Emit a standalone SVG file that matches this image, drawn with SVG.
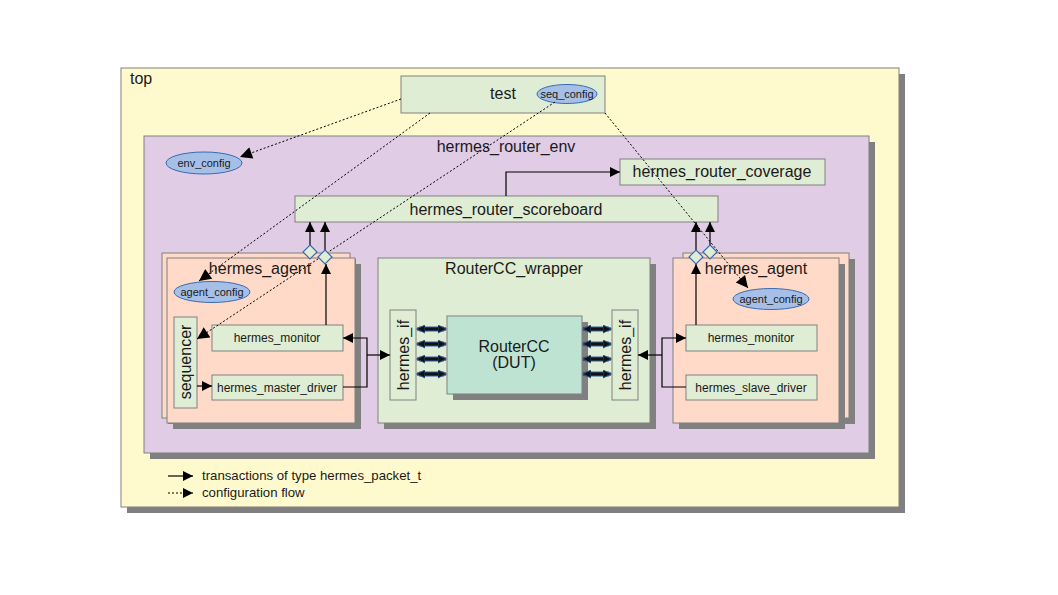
<svg xmlns="http://www.w3.org/2000/svg" width="1058" height="595" viewBox="0 0 1058 595">
<defs>
<marker id="ah" viewBox="0 0 10 10" refX="10" refY="5" markerWidth="11" markerHeight="10" markerUnits="userSpaceOnUse" orient="auto"><path d="M0,0 L10,5 L0,10 z" fill="#000"/></marker>
<marker id="ahc" viewBox="0 0 10 10" refX="10" refY="5" markerWidth="15" markerHeight="12" markerUnits="userSpaceOnUse" orient="auto"><path d="M0,0 L10,5 L0,10 z" fill="#000"/></marker>
<marker id="bi" viewBox="0 0 10 10" refX="9" refY="5" markerWidth="9" markerHeight="9" markerUnits="userSpaceOnUse" orient="auto-start-reverse"><path d="M0,0.5 L9.5,5 L0,9.5 z" fill="#111" stroke="#2f5f9f" stroke-width="1"/></marker>
</defs>
<style>
.sh{fill:#808080}
.top{fill:#fffacd;stroke:#808080;stroke-width:1}
.env{fill:#e0cce4;stroke:#808080;stroke-width:1}
.grn{fill:#dfedd4;stroke:#808080;stroke-width:1}
.ag{fill:#ffdac8;stroke:#808080;stroke-width:1}
.dut{fill:#bee3d3;stroke:#808080;stroke-width:1}
.ell{fill:#a6bfe6;stroke:#3a6bb0;stroke-width:1}
.dia{fill:#dfedd4;stroke:#3a6bb0;stroke-width:1.2}
text{font-family:"Liberation Sans",Arial,sans-serif;fill:#1a1a1a}
.t16{font-size:16px}
.t13{font-size:12px}
.t11{font-size:11px}
.t12{font-size:13.2px}
.mid{text-anchor:middle}
.ln{stroke:#000;stroke-width:1.2;fill:none}
.dot{stroke:#000;stroke-width:1;fill:none;stroke-dasharray:2,2}
.bb{stroke:#2f5f9f;stroke-width:5}
.bk{stroke:#111;stroke-width:3}
</style>
<rect width="1058" height="595" fill="#fff"/>
<g id="top">
<rect class="sh" x="127" y="74" width="778" height="439"/>
<rect class="top" x="121" y="68" width="778" height="439"/>
<text class="t16" x="130" y="84">top</text>
</g>
<g id="hermes_router_env">
<rect class="sh" x="150" y="142" width="725" height="317"/>
<rect class="env" x="144" y="136" width="725" height="317"/>
<text class="t16 mid" x="506" y="152">hermes_router_env</text>
</g>
<g id="test">
<rect class="grn" x="401" y="76" width="204" height="37"/>
<text class="t16 mid" x="503" y="99">test</text>
</g>
<g id="seq_config">
<ellipse class="ell" cx="567" cy="94" rx="30" ry="9.5"/>
<text class="t11 mid" x="567" y="98">seq_config</text>
</g>
<g id="env_config">
<ellipse class="ell" cx="204" cy="163" rx="38" ry="11"/>
<text class="t11 mid" x="204" y="167">env_config</text>
</g>
<g id="hermes_router_coverage">
<rect class="grn" x="620" y="159" width="205" height="26"/>
<text class="t16 mid" x="722" y="177">hermes_router_coverage</text>
</g>
<g id="hermes_router_scoreboard">
<rect class="grn" x="295" y="196" width="423" height="26"/>
<text class="t16 mid" x="506" y="215">hermes_router_scoreboard</text>
</g>
<g id="left_agent">
<rect class="sh" x="168" y="259" width="188" height="165"/>
<rect class="ag" x="162" y="253" width="188" height="165"/>
<rect class="sh" x="173" y="264" width="188" height="165"/>
<rect class="ag" x="167" y="258" width="188" height="165"/>
<text class="t16 mid" x="260" y="274">hermes_agent</text>
</g>
<g id="left_agent_config">
<ellipse class="ell" cx="212" cy="292" rx="38" ry="10.5"/>
<text class="t11 mid" x="212" y="296">agent_config</text>
</g>
<g id="sequencer">
<rect class="grn" x="174" y="317" width="23" height="91"/>
<text class="t16 mid" x="191" y="362" transform="rotate(-90 191 362)">sequencer</text>
</g>
<g id="left_monitor">
<rect class="grn" x="212" y="325" width="131" height="26"/>
<text class="t13 mid" x="277" y="342">hermes_monitor</text>
</g>
<g id="master_driver">
<rect class="grn" x="212" y="375" width="131" height="25"/>
<text class="t13 mid" x="277" y="392">hermes_master_driver</text>
</g>
<g id="RouterCC_wrapper">
<rect class="sh" x="384" y="264" width="272" height="165"/>
<rect class="grn" x="378" y="258" width="272" height="165"/>
<text class="t16 mid" x="514" y="274">RouterCC_wrapper</text>
</g>
<g id="left_hermes_if">
<rect class="grn" x="390" y="310" width="26" height="90"/>
<text class="t16 mid" x="409" y="355" transform="rotate(-90 409 355)">hermes_if</text>
</g>
<g id="right_hermes_if">
<rect class="grn" x="612" y="310" width="26" height="90"/>
<text class="t16 mid" x="631" y="355" transform="rotate(-90 631 355)">hermes_if</text>
</g>
<g id="RouterCC">
<rect class="sh" x="453" y="322" width="135" height="78"/>
<rect class="dut" x="447" y="316" width="135" height="78"/>
<text class="t16 mid" x="514" y="352">RouterCC</text>
<text class="t16 mid" x="514" y="368">(DUT)</text>
</g>
<g id="right_agent">
<rect class="sh" x="689" y="259" width="166" height="165"/>
<rect class="ag" x="683" y="253" width="166" height="165"/>
<rect class="sh" x="679" y="264" width="166" height="165"/>
<rect class="ag" x="673" y="258" width="166" height="165"/>
<text class="t16 mid" x="756" y="274">hermes_agent</text>
</g>
<g id="right_agent_config">
<ellipse class="ell" cx="771" cy="299" rx="38" ry="10.5"/>
<text class="t11 mid" x="771" y="303">agent_config</text>
</g>
<g id="right_monitor">
<rect class="grn" x="686" y="325" width="131" height="26"/>
<text class="t13 mid" x="751" y="342">hermes_monitor</text>
</g>
<g id="slave_driver">
<rect class="grn" x="686" y="375" width="131" height="25"/>
<text class="t13 mid" x="751" y="392">hermes_slave_driver</text>
</g>
<g id="connectors">
<path class="ln" d="M506 196 V172 H620" marker-end="url(#ah)"/>
<path class="ln" d="M310 245 V222" marker-end="url(#ah)"/>
<path class="ln" d="M325 250 V222" marker-end="url(#ah)"/>
<path class="ln" d="M326 325 V264" marker-end="url(#ah)"/>
<path class="ln" d="M696 250 V222" marker-end="url(#ah)"/>
<path class="ln" d="M710 245 V222" marker-end="url(#ah)"/>
<path class="ln" d="M696 325 V264" marker-end="url(#ah)"/>
<path class="ln" d="M197 386 H212" marker-end="url(#ah)"/>
<path class="ln" d="M343 387 H367 V338 H343" marker-end="url(#ah)"/>
<path class="ln" d="M367 355 H390" marker-end="url(#ah)"/>
<path class="ln" d="M686 387 H662 V338 H686" marker-end="url(#ah)"/>
<path class="ln" d="M662 355 H638" marker-end="url(#ah)"/>
<g>
<line class="bb" x1="419" y1="329" x2="444" y2="329"/>
<line class="bb" x1="419" y1="344" x2="444" y2="344"/>
<line class="bb" x1="419" y1="359" x2="444" y2="359"/>
<line class="bb" x1="419" y1="374" x2="444" y2="374"/>
<line class="bb" x1="585" y1="329" x2="609" y2="329"/>
<line class="bb" x1="585" y1="344" x2="609" y2="344"/>
<line class="bb" x1="585" y1="359" x2="609" y2="359"/>
<line class="bb" x1="585" y1="374" x2="609" y2="374"/>
<line class="bk" x1="417" y1="329" x2="446" y2="329" marker-start="url(#bi)" marker-end="url(#bi)"/>
<line class="bk" x1="417" y1="344" x2="446" y2="344" marker-start="url(#bi)" marker-end="url(#bi)"/>
<line class="bk" x1="417" y1="359" x2="446" y2="359" marker-start="url(#bi)" marker-end="url(#bi)"/>
<line class="bk" x1="417" y1="374" x2="446" y2="374" marker-start="url(#bi)" marker-end="url(#bi)"/>
<line class="bk" x1="583" y1="329" x2="611" y2="329" marker-start="url(#bi)" marker-end="url(#bi)"/>
<line class="bk" x1="583" y1="344" x2="611" y2="344" marker-start="url(#bi)" marker-end="url(#bi)"/>
<line class="bk" x1="583" y1="359" x2="611" y2="359" marker-start="url(#bi)" marker-end="url(#bi)"/>
<line class="bk" x1="583" y1="374" x2="611" y2="374" marker-start="url(#bi)" marker-end="url(#bi)"/>
</g>
<path class="dot" d="M401 99 L240 157" marker-end="url(#ahc)"/>
<path class="dot" d="M430 113 L199 281" marker-end="url(#ahc)"/>
<path class="dot" d="M555 102 L197 339" marker-end="url(#ahc)"/>
<path class="dot" d="M605 113 L748 288" marker-end="url(#ahc)"/>
</g>
<g id="ports">
<path class="dia" d="M310 245 L317 252 L310 259 L303 252 z"/>
<path class="dia" d="M325 250 L332 257 L325 264 L318 257 z"/>
<path class="dia" d="M696 250 L703 257 L696 264 L689 257 z"/>
<path class="dia" d="M710 245 L717 252 L710 259 L703 252 z"/>
</g>
<g id="legend">
<path class="ln" d="M168 476 H193" marker-end="url(#ah)"/>
<text class="t12" x="202" y="480">transactions of type hermes_packet_t</text>
<path class="dot" d="M168 493 H193" marker-end="url(#ah)"/>
<text class="t12" x="202" y="497">configuration flow</text>
</g>
</svg>
